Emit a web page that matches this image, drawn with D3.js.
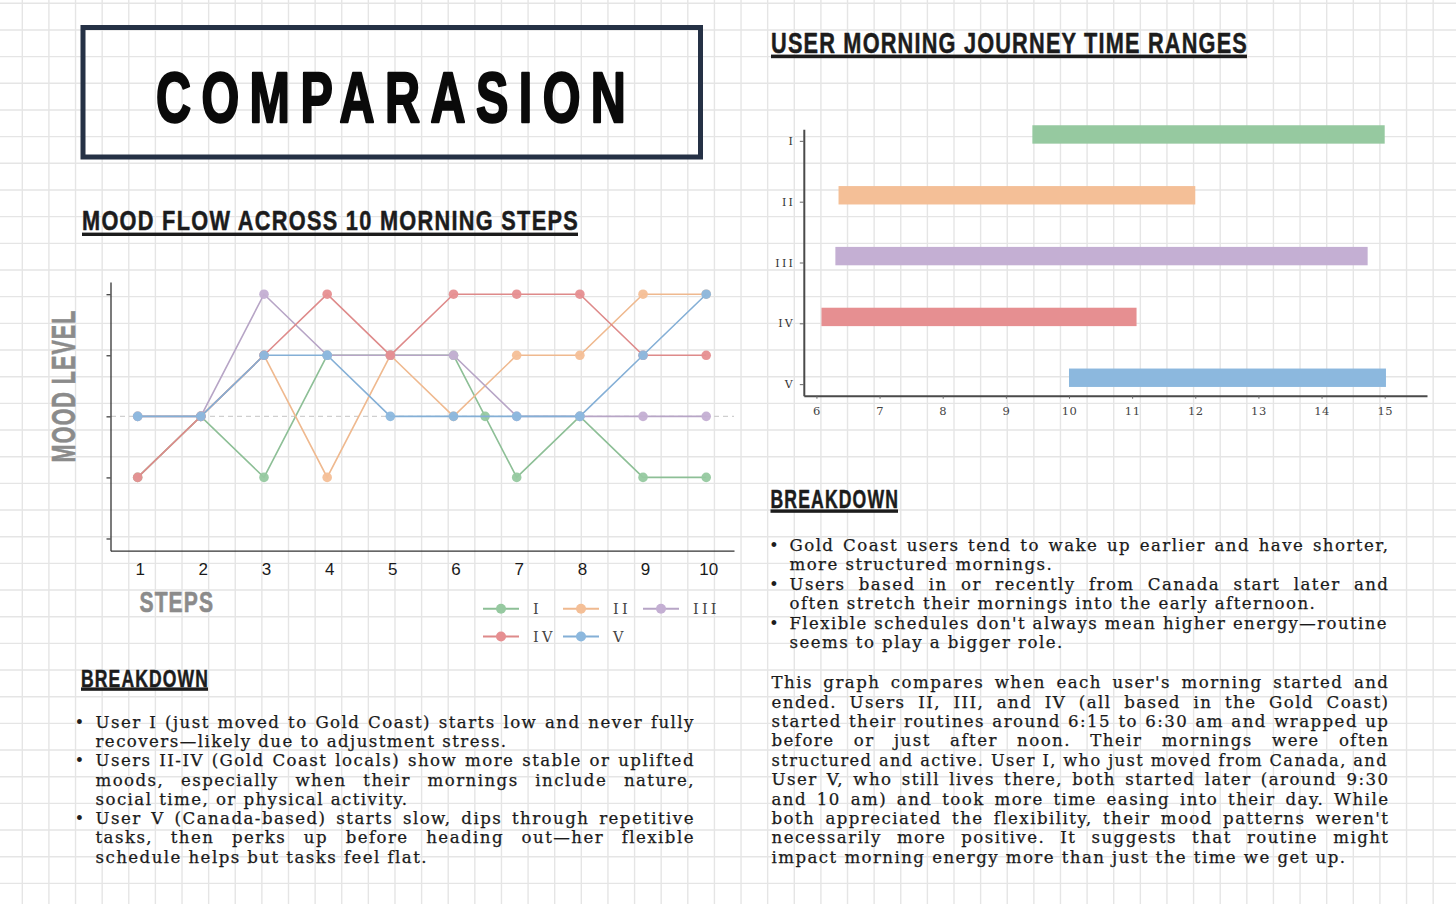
<!DOCTYPE html>
<html>
<head>
<meta charset="utf-8">
<script src="https://cdn.jsdelivr.net/npm/d3@7"></script>
<style>
  html, body { margin: 0; padding: 0; background: #ffffff; }
  svg { display: block; }
</style>
</head>
<body>
<script>
// ---------------- DATA ----------------
const users = ["I", "II", "III", "IV", "V"];
const steps = [1, 2, 3, 4, 5, 6, 7, 8, 9, 10];
const stepsI = [1, 2, 3, 4, 5, 6, 6.5, 7, 8, 9, 10];
const moodI   = [-1, 0, -1, 1, 1, 1, 0, -1, 0, -1, -1];
const moodII  = [0, 0, 1, -1, 1, 0, 1, 1, 2, 2];
const moodIII = [0, 0, 2, 1, 1, 1, 0, 0, 0, 0];
const moodIV  = [-1, 0, 1, 2, 1, 2, 2, 2, 1, 1];
const moodV   = [0, 0, 1, 1, 0, 0, 0, 0, 1, 2];
const moodTicks = [-2, -1, 0, 1, 2];
const startTimes = [9.42, 6.35, 6.3, 6.08, 10.0];
const endTimes   = [15.0, 12.0, 14.73, 11.07, 15.02];
const hourTicks = [6, 7, 8, 9, 10, 11, 12, 13, 14, 15];

const titleText = "COMPARASION";
const lineTitle = "MOOD FLOW ACROSS 10 MORNING STEPS";
const barTitle = "USER MORNING JOURNEY TIME RANGES";
const breakdownTitle = "BREAKDOWN";
const yLabel = "MOOD LEVEL";
const xLabel = "STEPS";

const leftBullets = [
  ["User I (just moved to Gold Coast) starts low and never fully",
   "recovers\u2014likely due to adjustment stress."],
  ["Users II-IV (Gold Coast locals) show more stable or uplifted",
   "moods, especially when their mornings include nature,",
   "social time, or physical activity."],
  ["User V (Canada-based) starts slow, dips through repetitive",
   "tasks, then perks up before heading out\u2014her flexible",
   "schedule helps but tasks feel flat."]
];
const rightBullets = [
  ["Gold Coast users tend to wake up earlier and have shorter,",
   "more structured mornings."],
  ["Users based in or recently from Canada start later and",
   "often stretch their mornings into the early afternoon."],
  ["Flexible schedules don't always mean higher energy\u2014routine",
   "seems to play a bigger role."]
];
const rightParagraph = [
  "This graph compares when each user's morning started and",
  "ended. Users II, III, and IV (all based in the Gold Coast)",
  "started their routines around 6:15 to 6:30 am and wrapped up",
  "before or just after noon. Their mornings were often",
  "structured and active. User I, who just moved from Canada, and",
  "User V, who still lives there, both started later (around 9:30",
  "and 10 am) and took more time easing into their day. While",
  "both appreciated the flexibility, their mood patterns weren't",
  "necessarily more positive. It suggests that routine might",
  "impact morning energy more than just the time we get up."
];

// ---------------- STYLE ----------------
const markColors = ["#96c9a0", "#f4bf97", "#c4afd3", "#e68f91", "#8cb8de"];
const lineColors = ["#8dbf96", "#efb98f", "#b7a5c6", "#de8a8a", "#84afd6"];
const headFont = "'Liberation Sans Narrow','Liberation Sans',Arial,sans-serif";
const bodyFont = "'DejaVu Serif',serif";

const W = 1456, H = 904;
const svg = d3.select("body").append("svg").attr("width", W).attr("height", H);

// grid paper background
const grid = svg.append("g").attr("stroke", "#e5e5e5").attr("stroke-width", 1.4);
d3.range(0, 56).forEach(k => {
  const gx = 22.3 + k * 26.62;
  grid.append("line").attr("x1", gx).attr("x2", gx).attr("y1", 0).attr("y2", H);
});
d3.range(0, 35).forEach(k => {
  const gy = 3.3 + k * 26.67;
  grid.append("line").attr("y1", gy).attr("y2", gy).attr("x1", 0).attr("x2", W);
});

// helper: fit bold condensed heading to width
function fitHeading(txt, x0, baseline, width, size, color, strokeW, letterSp) {
  const t = svg.append("text").text(txt)
    .attr("font-family", headFont).attr("font-weight", "bold")
    .attr("font-size", size).attr("fill", color)
    .attr("stroke", color).attr("stroke-width", strokeW)
    .attr("stroke-linejoin", "round");
  if (letterSp) t.attr("letter-spacing", letterSp);
  let len = t.node().getComputedTextLength();
  if (letterSp) len -= letterSp;
  const s = width / len;
  t.attr("transform", `translate(${x0},${baseline}) scale(${s},1)`);
  return t;
}

// ---------------- TITLE BOX ----------------
svg.append("rect").attr("x", 83).attr("y", 27.5).attr("width", 617.5).attr("height", 129.5)
  .attr("fill", "none").attr("stroke", "#253145").attr("stroke-width", 5);
fitHeading(titleText, 156, 121.5, 470, 70, "#0a0a0a", 2.4, 15);

// ---------------- HEADINGS ----------------
function heading(txt, x0, baseline, width, size, ulY, ulH) {
  fitHeading(txt, x0, baseline, width, size, "#1c1c1c", 0.5, 1.6);
  svg.append("rect").attr("x", x0).attr("y", ulY).attr("width", width).attr("height", ulH)
    .attr("fill", "#1c1c1c");
}
heading(lineTitle, 82, 230, 496, 27, 232.6, 3.4);
heading(barTitle, 771, 53.3, 476, 29.5, 54.6, 3.6);
heading(breakdownTitle, 81, 686.5, 127, 24.5, 687.4, 3.4);
heading(breakdownTitle, 770.5, 507.6, 127.5, 25, 509.4, 3.4);

// ---------------- LINE CHART ----------------
const x = d3.scaleLinear().domain([0.57, 10.44]).range([110.5, 734]);
const y = d3.scaleLinear().domain([-2.2, 2.2]).range([550.7, 282]);

const lc = svg.append("g");
lc.append("line").attr("x1", 111).attr("x2", 734).attr("y1", y(0)).attr("y2", y(0))
  .attr("stroke", "#cfcfcf").attr("stroke-width", 1.3).attr("stroke-dasharray", "5,4");

const yAx = lc.append("g").attr("transform", "translate(110.5,0)")
  .call(d3.axisLeft(y).tickValues(moodTicks).tickSize(4).tickFormat("").tickSizeOuter(0));
const xAx = lc.append("g").attr("transform", "translate(0,550.7)")
  .call(d3.axisBottom(x).tickValues(steps).tickSize(0).tickPadding(12).tickSizeOuter(0));
[yAx, xAx].forEach(a => {
  a.select(".domain").attr("stroke", "#333").attr("stroke-width", 1.3);
  a.selectAll(".tick line").attr("stroke", "#333").attr("stroke-width", 1.2);
});
xAx.selectAll("text").attr("font-family", headFont).attr("font-size", 17).attr("fill", "#1a1a1a")
  .attr("dx", 2);

const seriesData = [
  { xs: stepsI, ys: moodI },
  { xs: steps, ys: moodII },
  { xs: steps, ys: moodIII },
  { xs: steps, ys: moodIV },
  { xs: steps, ys: moodV }
];
const line = d3.line().x(d => x(d[0])).y(d => y(d[1]));
seriesData.forEach((s, i) => {
  const pts = s.xs.map((v, j) => [v, s.ys[j]]);
  lc.append("path").datum(pts).attr("d", line).attr("fill", "none")
    .attr("stroke", lineColors[i]).attr("stroke-width", 1.6);
  lc.selectAll(null).data(pts).enter().append("circle")
    .attr("cx", d => x(d[0])).attr("cy", d => y(d[1])).attr("r", 4.8)
    .attr("fill", markColors[i]).attr("fill-opacity", 0.95);
});

// axis titles
(function () {
  const t = svg.append("text").text(yLabel)
    .attr("font-family", headFont).attr("font-weight", "bold").attr("font-size", 34)
    .attr("fill", "#8b8b8b").attr("stroke", "#8b8b8b").attr("stroke-width", 0.6)
    .attr("letter-spacing", 1.5)
    .attr("text-anchor", "middle");
  const s = 152 / (t.node().getComputedTextLength() - 1.5);
  t.attr("transform", `translate(74.6,386) rotate(-90) scale(${s},1)`);
})();
fitHeading(xLabel, 139.5, 611.7, 73.5, 29, "#8b8b8b", 0.6, 1.5);

// legend
const legend = svg.append("g");
users.forEach((u, i) => {
  const col = i < 3 ? i : i - 3;
  const row = i < 3 ? 0 : 1;
  const lx = 483 + col * 80, ly = row === 0 ? 608.8 : 636.5;
  legend.append("line").attr("x1", lx).attr("x2", lx + 36).attr("y1", ly).attr("y2", ly)
    .attr("stroke", lineColors[i]).attr("stroke-width", 2);
  legend.append("circle").attr("cx", lx + 18).attr("cy", ly).attr("r", 5).attr("fill", markColors[i]);
  legend.append("text").text(u).attr("x", lx + 50).attr("y", ly + 5)
    .attr("font-family", bodyFont).attr("font-size", 14.5).attr("letter-spacing", 3.2)
    .attr("fill", "#444");
});

// ---------------- BAR CHART ----------------
const xb = d3.scaleLinear().domain([5.8, 15.67]).range([803.8, 1427]);
const yb = d3.scalePoint().domain(users).range([129.3, 395.7]).padding(0.19);
const bc = svg.append("g");
const barH = 18.4, barShift = -6.4;
bc.selectAll("rect").data(users).enter().append("rect")
  .attr("x", (d, i) => xb(startTimes[i]))
  .attr("width", (d, i) => xb(endTimes[i]) - xb(startTimes[i]))
  .attr("y", d => yb(d) + barShift - barH / 2)
  .attr("height", barH)
  .attr("fill", (d, i) => markColors[i]);

const ybAx = bc.append("g").attr("transform", "translate(803.8,0)")
  .call(d3.axisLeft(yb).tickSize(4).tickPadding(7).tickSizeOuter(0));
const xbAx = bc.append("g").attr("transform", "translate(0,395.7)")
  .call(d3.axisBottom(xb).tickValues(hourTicks).tickSize(3).tickPadding(8).tickSizeOuter(0));
[ybAx, xbAx].forEach(a => {
  a.select(".domain").attr("stroke", "#4a4a4a").attr("stroke-width", 2);
  a.selectAll(".tick line").attr("stroke", "#666").attr("stroke-width", 1);
  a.selectAll("text").attr("font-family", bodyFont).attr("fill", "#333");
});
ybAx.selectAll("text").attr("font-size", 11).attr("letter-spacing", 2.2).attr("dx", 2.2);
xbAx.selectAll("text").attr("font-size", 11.5).attr("fill", "#444").attr("letter-spacing", 0.5);

// ---------------- TEXT BLOCKS ----------------
const FS = 16.6;
const probe = svg.append("text").text(rightParagraph[rightParagraph.length - 1])
  .attr("font-family", bodyFont).attr("font-size", FS);
const probeLen = probe.node().getComputedTextLength();
probe.remove();
const LS = (575 - probeLen) / rightParagraph[rightParagraph.length - 1].length;

function textLine(str, x0, base, width, justify) {
  const t = svg.append("text").text(str)
    .attr("x", x0).attr("y", base)
    .attr("font-family", bodyFont).attr("font-size", FS)
    .attr("letter-spacing", LS)
    .attr("fill", "#1a1a1a").attr("stroke", "#1a1a1a").attr("stroke-width", 0.25);
  const len = t.node().getComputedTextLength() - LS;
  if (len > width) {
    t.attr("textLength", width).attr("lengthAdjust", "spacingAndGlyphs");
    return;
  }
  if (justify) {
    const n = (str.match(/ /g) || []).length;
    if (n > 0) {
      t.attr("word-spacing", (width - len) / n);
      const len2 = t.node().getComputedTextLength() - LS;
      if (Math.abs(len2 - width) > 2) {
        t.attr("word-spacing", null).attr("textLength", width).attr("lengthAdjust", "spacing");
      }
    }
  }
}
function bulletBlock(groups, bx, tx, base0, lh, width) {
  let k = 0;
  groups.forEach(g => {
    svg.append("text").text("\u2022").attr("x", bx).attr("y", base0 + k * lh)
      .attr("font-family", bodyFont).attr("font-size", FS).attr("fill", "#1e1e1e")
      .attr("text-anchor", "middle");
    g.forEach((ln, j) => {
      textLine(ln, tx, base0 + k * lh, width, j < g.length - 1);
      k++;
    });
  });
}
bulletBlock(leftBullets, 79.5, 95.5, 727.6, 19.3, 598);
bulletBlock(rightBullets, 774, 789.5, 551, 19.45, 598.5);
rightParagraph.forEach((ln, j) => {
  textLine(ln, 771.5, 688.3 + j * 19.38, 616.5, j < rightParagraph.length - 1);
});
</script>
</body>
</html>
